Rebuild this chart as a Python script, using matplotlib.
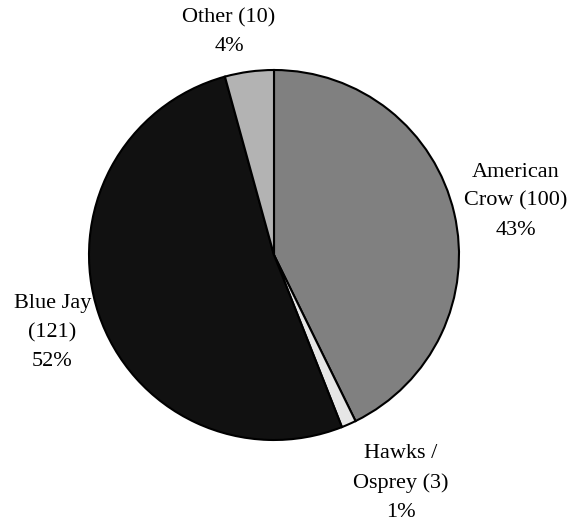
import matplotlib.pyplot as plt
import numpy as np

plt.rcParams['font.family'] = ['Liberation Serif', 'DejaVu Serif']

names = ['American\nCrow (100)', 'Hawks /\nOsprey (3)', 'Blue Jay\n(121)', 'Other (10)']
counts = [100, 3, 121, 10]
colors = ['#808080', '#e6e6e6', '#111111', '#b3b3b3']
# label placement: distance (in radii) and angular nudge (deg) from wedge middle
label_dist = [1.34, 1.41, 1.27, 1.23]
label_nudge = [-0.5, 5.3, 0.9, 3.7]

total = sum(counts)
labels = [f"{n}\n{round(c / total * 100)}%" for n, c in zip(names, counts)]

fig = plt.figure(figsize=(5.82, 5.22), dpi=100)
ax = fig.add_axes([0, 0, 1, 1])

cx, cy, r = 274, 522 - 255, 185
wedges, _ = ax.pie(counts, colors=colors, startangle=90, counterclock=False,
                   center=(cx, cy), radius=r, frame=True,
                   wedgeprops=dict(edgecolor='black', linewidth=1.5))
ax.axis('off')
ax.set_xlim(0, 582)
ax.set_ylim(0, 522)
ax.set_aspect('equal')

for w, lab, d, nudge in zip(wedges, labels, label_dist, label_nudge):
    ang = np.deg2rad((w.theta1 + w.theta2) / 2 + nudge)
    x = cx + d * r * np.cos(ang)
    y = cy + d * r * np.sin(ang)
    ax.text(x, y, lab, ha='center', va='center', fontsize=16,
            linespacing=1.7, multialignment='center')

fig.savefig('out.png', dpi=100)
